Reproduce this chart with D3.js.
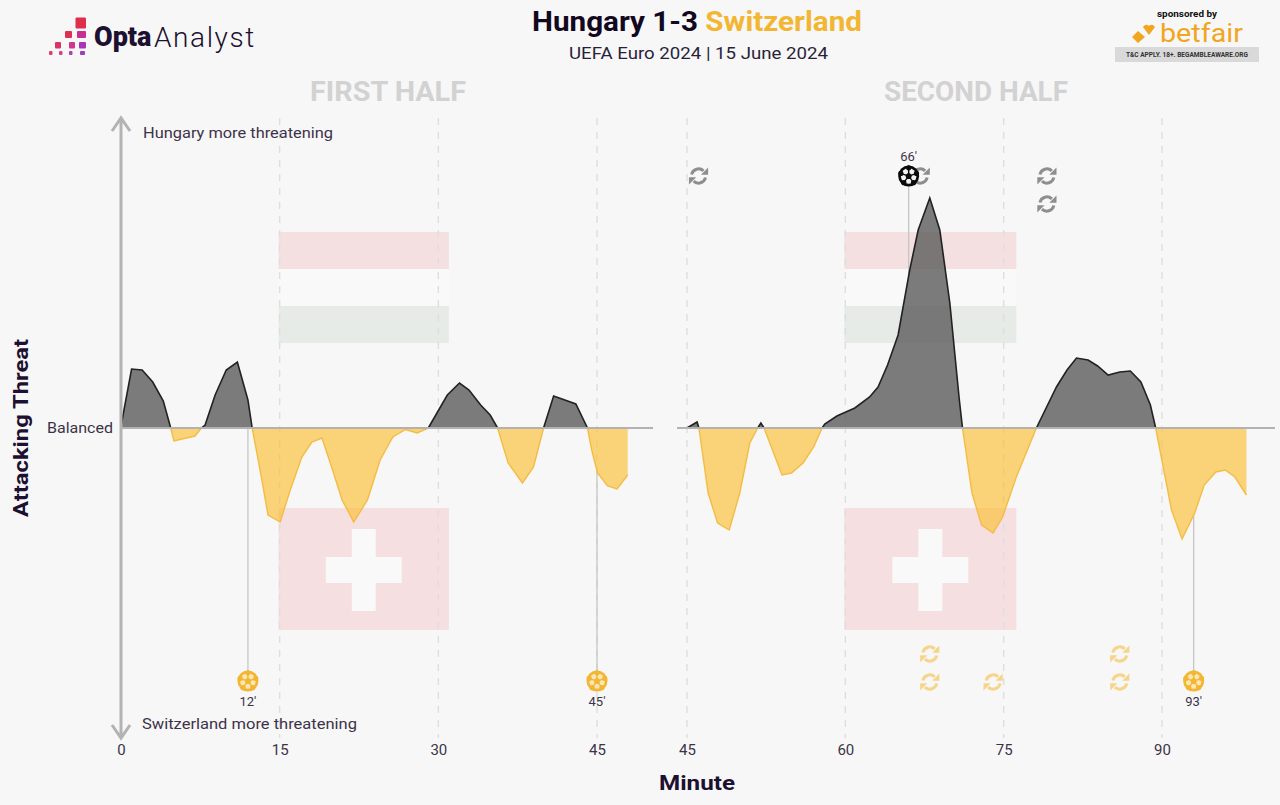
<!DOCTYPE html>
<html>
<head>
<meta charset="utf-8">
<script src="https://cdn.jsdelivr.net/npm/d3@7/dist/d3.min.js"></script>
<style>
html,body{margin:0;padding:0;background:#f7f7f7;overflow:hidden}
svg{display:block}
text{font-family:Roboto,"Open Sans",sans-serif}
</style>
</head>
<body>
<svg id="c" width="1280" height="805"></svg>
<script>
const firstMinutes = [0,1,2,3,4,4.7,5,7,7.6,7.95,8.9,9.95,11,12,12.4,13.15,13.9,15.05,16,17.1,18.05,19,20,20.9,22,23.3,24.5,25.7,26.9,28,29.05,30.85,32,32.9,34,34.9,35.6,36.6,37.95,39,39.95,40.9,43,44.1,44.5,45.05,46,46.9,47.9];
const firstThreat = [0.02,0.59,0.58,0.46,0.27,0,-0.13,-0.08,0,0.03,0.33,0.58,0.66,0.28,0,-0.42,-0.87,-0.94,-0.62,-0.29,-0.14,-0.10,-0.42,-0.72,-0.94,-0.72,-0.32,-0.09,-0.015,-0.05,0,0.33,0.45,0.38,0.23,0.13,0,-0.35,-0.55,-0.39,0,0.32,0.24,0,-0.22,-0.45,-0.58,-0.61,-0.47];
const secondMinutes = [45,45.95,46.13,47,47.9,49,50,50.95,51.7,52,52.3,54,54.9,56,57,57.8,58.05,59.2,60.9,62.3,63.1,64,65,66.1,66.9,68,68.95,69.9,70.8,71.1,72,72.9,74,74.9,76.2,78.1,80,81,81.9,83,83.9,84.9,86,87,88,88.9,89.4,90.9,91.9,93.1,94,95.1,96,96.9,98];
const secondThreat = [0,0.06,0,-0.65,-0.95,-1.02,-0.65,-0.15,0,0.05,0,-0.47,-0.45,-0.35,-0.19,0,0.04,0.12,0.2,0.31,0.41,0.63,0.93,1.58,1.98,2.30,1.98,1.25,0.28,0,-0.65,-0.97,-1.05,-0.89,-0.49,0,0.41,0.58,0.70,0.68,0.62,0.53,0.56,0.57,0.46,0.23,0,-0.82,-1.11,-0.85,-0.57,-0.44,-0.42,-0.49,-0.67];
const firstTicks = [0,15,30,45];
const secondTicks = [45,60,75,90];
const firstGridMinutes = [15,30,45];
const secondGridMinutes = [45,60,75,90];
const hungaryGoals = [66];
const switzerlandGoalsFirst = [12,45];
const switzerlandGoalsSecond = [93];
const hungarySubs = [[46,0],[67,0],[79,0],[79,1]];
const switzerlandSubs = [[68,0],[68,1],[74,1],[86,0],[86,1]];

const NAVY = "#1d1030", TXT = "#3d3349", GOLD = "#f2b632";
const svg = d3.select("#c");
svg.append("rect").attr("width",1280).attr("height",805).attr("fill","#f7f7f7");

const xA = d3.scaleLinear().domain([0,45]).range([121,597]);
const xB = d3.scaleLinear().domain([45,90]).range([687,1162]);
const y = d3.scaleLinear().domain([-3.1,3.1]).range([738,118]);

function fitText(sel,w){ sel.attr("textLength",w).attr("lengthAdjust","spacingAndGlyphs"); return sel; }
function label(t,x,yy,o={}){
  const s = (o.g||svg).append("text").attr("x",x).attr("y",yy).text(t)
    .attr("font-size",o.size||14).attr("fill",o.fill||TXT)
    .attr("font-weight",o.weight||400).attr("text-anchor",o.anchor||"start")
    .attr("dominant-baseline","central");
  if(o.w) fitText(s,o.w);
  if(o.ls) s.attr("letter-spacing",o.ls);
  return s;
}

// Header
const title = svg.append("text").attr("x",697).attr("y",22).attr("text-anchor","middle")
  .attr("dominant-baseline","central").attr("font-size",27).attr("font-weight",700)
  .attr("textLength",330).attr("lengthAdjust","spacingAndGlyphs");
title.append("tspan").attr("fill","#120820").text("Hungary 1-3 ");
title.append("tspan").attr("fill",GOLD).text("Switzerland");
label("UEFA Euro 2024 | 15 June 2024",698.5,53,{size:17,anchor:"middle",fill:"#2a1f3a",w:259});
label("FIRST HALF",388,92,{size:27,weight:700,anchor:"middle",fill:"#d2d2d2",w:156});
label("SECOND HALF",976,92,{size:27,weight:700,anchor:"middle",fill:"#d2d2d2",w:184});

// Opta logo
const logo = [[75.5,17.5,10.5,11,"#dd2e4c"],[65,31,7,7,"#de2f55"],[77,31,9,7,"#c92f8e"],
  [55,42,6,6.5,"#dc3264"],[69,42,6,6.5,"#d0388f"],[79,42,7,6.5,"#a836b4"],
  [49,51,3.5,4,"#dd3f6a"],[59,51,3.5,4,"#cf4191"],[69,51,3.5,4,"#b23fae"],[80,51,5,4,"#9a3fc0"]];
svg.append("g").selectAll("rect").data(logo).join("rect")
  .attr("x",d=>d[0]).attr("y",d=>d[1]).attr("width",d=>d[2]).attr("height",d=>d[3]).attr("fill",d=>d[4]).attr("rx",1);
label("Opta",94,37,{size:27,weight:900,fill:NAVY});
label("Analyst",154,37,{size:28,weight:300,fill:NAVY,ls:1.6});

// Betfair logo
label("sponsored by",1187,14,{size:9,weight:700,anchor:"middle",fill:"#111",w:60});
svg.append("path").attr("fill","#f2a51e").attr("d","M1132 37l6-6 7 6-7 6zM1143 27q3-4 6-1q3-3 6 1l-6 8z");
label("betfair",1160,33,{size:26,weight:400,fill:"#f2a51e",w:83});
svg.append("rect").attr("x",1115).attr("y",47).attr("width",144).attr("height",15).attr("fill","#d9d9d9");
label("T&C APPLY. 18+. BEGAMBLEAWARE.ORG",1187,55,{size:7,weight:700,anchor:"middle",fill:"#333",w:122});

// Flags behind the series
function flags(x,x0,x1){
  const g = svg.append("g");
  const L = x(x0), W = x(x1)-x(x0);
  const band = (a,b,c)=>g.append("rect").attr("x",L).attr("width",W).attr("y",y(a)).attr("height",y(b)-y(a)).attr("fill",c);
  band(1.96,1.59,"#f5e0e1");
  band(1.59,1.22,"#f9f9f9");
  band(1.22,0.85,"#e7ebe7");
  band(-0.80,-2.02,"#f6dfe0");
  const cx = L+W/2;
  g.append("rect").attr("x",cx-12).attr("width",24).attr("y",y(-1.01)).attr("height",y(-1.83)-y(-1.01)).attr("fill","#f9f9f9");
  g.append("rect").attr("x",cx-38).attr("width",76).attr("y",y(-1.29)).attr("height",y(-1.55)-y(-1.29)).attr("fill","#f9f9f9");
}
flags(xA,14.9,31);
flags(xB,59.9,76.2);

// Grid
function grid(x,ms){
  svg.append("g").selectAll("line").data(ms).join("line")
    .attr("x1",x).attr("x2",x).attr("y1",y(3.1)).attr("y2",y(-3.1))
    .attr("stroke","#dedede").attr("stroke-width",1.4).attr("stroke-dasharray","7 7");
}
grid(xA,firstGridMinutes);
grid(xB,secondGridMinutes);

// Goal stems start where the series sits, so they never show through the fill
function stems(x,ms,y1,mins,vals){
  const at = d3.scaleLinear().domain(mins).range(vals);
  svg.append("g").selectAll("line").data(ms).join("line")
    .attr("x1",x).attr("x2",x)
    .attr("y1",m=>{const v=at(m);return y1<y(0)?y(v):y(Math.min(v,0));})
    .attr("y2",y1)
    .attr("stroke","#c6c6c6").attr("stroke-width",1.3);
}
stems(xA,switzerlandGoalsFirst,672,firstMinutes,firstThreat);
stems(xB,switzerlandGoalsSecond,672,secondMinutes,secondThreat);
stems(xB,hungaryGoals,186,secondMinutes,secondThreat);

// Series
function series(x,ms,vs){
  const d = ms.map((m,i)=>({m,v:vs[i]}));
  const g = svg.append("g");
  const neg = d3.area().x(p=>x(p.m)).y0(y(0)).y1(p=>y(Math.min(p.v,0)));
  const pos = d3.area().x(p=>x(p.m)).y0(y(0)).y1(p=>y(Math.max(p.v,0)));
  g.append("path").attr("d",neg(d)).attr("fill","#fbbf37").attr("fill-opacity",.67);
  g.append("path").attr("d",pos(d)).attr("fill","#5b5b5b").attr("fill-opacity",.8);
  const lineNeg = d3.line().defined(p=>p.v<=0).x(p=>x(p.m)).y(p=>y(p.v));
  const linePos = d3.line().defined(p=>p.v>=0).x(p=>x(p.m)).y(p=>y(p.v));
  g.append("path").attr("d",lineNeg(d)).attr("fill","none").attr("stroke","#f3bd45").attr("stroke-width",1.4);
  g.append("path").attr("d",linePos(d)).attr("fill","none").attr("stroke","#222").attr("stroke-width",1.6);
}
series(xA,firstMinutes,firstThreat);
series(xB,secondMinutes,secondThreat);

// Baselines
svg.append("line").attr("x1",121).attr("x2",653).attr("y1",y(0)).attr("y2",y(0)).attr("stroke","#b2b2b2").attr("stroke-width",1.8);
svg.append("line").attr("x1",677).attr("x2",1275).attr("y1",y(0)).attr("y2",y(0)).attr("stroke","#b2b2b2").attr("stroke-width",1.8);

// Vertical arrow
svg.append("path").attr("fill","none").attr("stroke","#b3b3b3").attr("stroke-width",3)
  .attr("d",`M121 ${y(3.1)}V${y(-3.1)}M112 131L121 ${y(3.1)}L130 131M112 725L121 ${y(-3.1)}L130 725`);

// Axes
function axis(x,ticks){
  const g = svg.append("g").attr("transform","translate(0,750)")
    .call(d3.axisBottom(x).tickValues(ticks).tickSize(0).tickPadding(0).tickFormat(d3.format("d")));
  g.select(".domain").remove();
  g.selectAll("text").attr("font-size",15).attr("fill",TXT).attr("font-family","Roboto")
    .attr("y",0).attr("dy",0).attr("dominant-baseline","central");
}
axis(xA,firstTicks);
axis(xB,secondTicks);

// Labels
label("Hungary more threatening",143,133,{size:15,w:190});
label("Switzerland more threatening",142,723.5,{size:15,w:215});
label("Balanced",47,428,{size:15,w:66});
svg.append("text").attr("transform","translate(21,428) rotate(-90)").attr("text-anchor","middle")
  .attr("dominant-baseline","central").attr("font-size",20).attr("font-weight",700).attr("fill",NAVY)
  .attr("textLength",178).attr("lengthAdjust","spacingAndGlyphs").text("Attacking Threat");
label("Minute",697,783,{size:21,weight:700,anchor:"middle",fill:NAVY,w:76});

// Substitution icon
function sub(cx,cy,color){
  const g = svg.append("g").attr("transform",`translate(${cx},${cy})`);
  const arc = d3.arc().innerRadius(5.6).outerRadius(8.6);
  const rad = Math.PI/180;
  g.append("path").attr("d",arc({startAngle:-70*rad,endAngle:52*rad})).attr("fill",color).attr("transform","rotate(-8)");
  g.append("path").attr("d",arc({startAngle:110*rad,endAngle:232*rad})).attr("fill",color).attr("transform","rotate(-8)");
  g.append("path").attr("d","M9.6 -8.6V-1.2H2.4Z").attr("fill",color);
  g.append("path").attr("d","M-9.6 8.6V1.2H-2.4Z").attr("fill",color);
}
hungarySubs.forEach(d=>sub(xB(d[0])+1,176+d[1]*28,"#8e8e8e"));
switzerlandSubs.forEach(d=>sub(xB(d[0]),654+d[1]*28,"#f6d489"));

// Ball icon
function ball(cx,cy,color,inner){
  const g = svg.append("g").attr("transform",`translate(${cx},${cy})`);
  g.append("circle").attr("r",10.5).attr("fill",color);
  g.append("circle").attr("r",7.8).attr("fill",inner);
  const ang = d3.range(5).map(i=>-Math.PI/2+i*2*Math.PI/5);
  g.selectAll("line").data(ang).join("line")
    .attr("x1",a=>3*Math.cos(a)).attr("y1",a=>3*Math.sin(a))
    .attr("x2",a=>7*Math.cos(a)).attr("y2",a=>7*Math.sin(a))
    .attr("stroke",color).attr("stroke-width",1.4);
  g.append("path").attr("fill",color)
    .attr("d",ang.map((a,i)=>(i?"L":"M")+3.6*Math.cos(a)+" "+3.6*Math.sin(a)).join("")+"Z");
  g.selectAll("circle.e").data(ang).join("circle").attr("class","e")
    .attr("cx",a=>8.2*Math.cos(a)).attr("cy",a=>8.2*Math.sin(a)).attr("r",2.6).attr("fill",color);
}
function goalMark(x,m,cy,labelY,color,inner){
  ball(x(m),cy,color,inner);
  label(m+"'",x(m),labelY,{size:13,anchor:"middle",fill:TXT});
}
switzerlandGoalsFirst.forEach(m=>goalMark(xA,m,681,701,GOLD,"#fbe6b4"));
switzerlandGoalsSecond.forEach(m=>goalMark(xB,m,681,701,GOLD,"#fbe6b4"));
hungaryGoals.forEach(m=>goalMark(xB,m,176,156,"#0b0b0b","#f2f2f2"));
</script>
</body>
</html>
